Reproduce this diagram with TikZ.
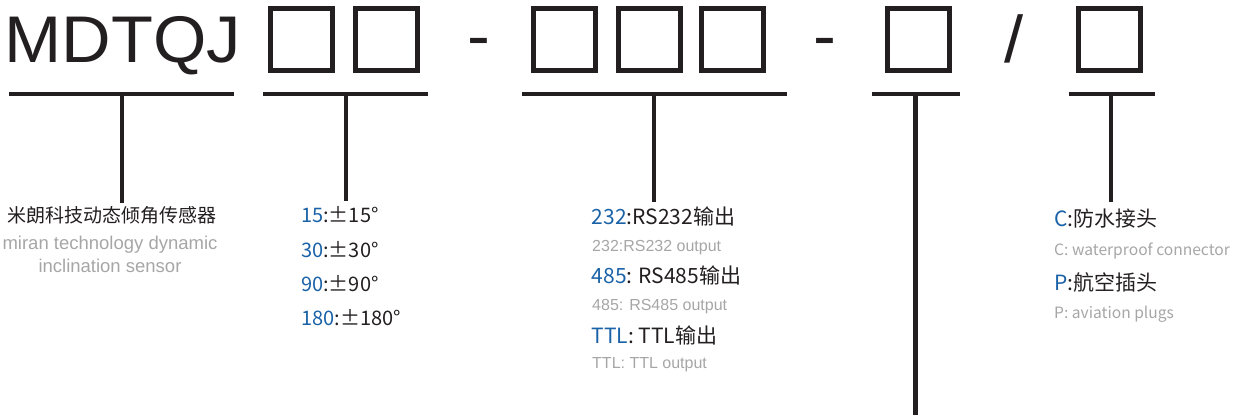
\documentclass[tikz,border=0pt]{standalone}
\usepackage{fontspec}
\newfontfamily\cjk{Noto Sans CJK SC}
\newfontfamily\arial{Liberation Sans}
\definecolor{ink}{HTML}{231F20}
\definecolor{codeblue}{HTML}{1A62A8}
\definecolor{notegrey}{HTML}{A6A6A6}
\newcommand{\key}[1]{\textcolor{codeblue}{#1}}
\tikzset{
  code/.style={font=\arial\fontsize{66}{66}\selectfont, text=ink, inner sep=0, anchor=base, xscale=1.04},
  slot/.style={draw=ink, line width=5pt},
  rule/.style={draw=ink, line width=3.8pt},
  stem/.style={draw=ink, line width=4.3pt},
  item/.style={font=\cjk\fontsize{20}{20}\selectfont, text=ink, inner sep=0, anchor=base west},
  bigitem/.style={item, font=\cjk\fontsize{21}{21}\selectfont},
  note/.style={font=\arial\fontsize{16}{16}\selectfont, text=notegrey, inner sep=0, anchor=base west},
  softnote/.style={note, font=\cjk\fontsize{15.6}{15.6}\selectfont},
}

\begin{document}
\begin{tikzpicture}[x=1pt, y=-1pt]
    \useasboundingbox (0,0) rectangle (1238,415);

    % model code
    \node[code, anchor=base west] (model) at (4.5,62) {MDTQJ};
    \foreach \x in {270.8,355.2,533.5,618.5,701.3,887.4,1078.9}
	\draw[slot] (\x,8.5) rectangle ++(62,62.3);
    \node[code] (dash1) at (479,58.6) {-};
    \node[code] (dash2) at (825,58.6) {-};
    \node[code] (slash) at (1014,62) {/};

    % underlines
    \draw[rule] (8.7,94) -- (234,94);
    \draw[rule] (263.3,94) -- (428.3,94);
    \draw[rule] (522.3,94) -- (787,94);
    \draw[rule] (872,94) -- (960,94);
    \draw[rule] (1068.6,94) -- (1155.3,94);
    \coordinate (u1) at (122,94);
    \coordinate (u2) at (346,94);
    \coordinate (u3) at (654,94);
    \coordinate (u4) at (915.6,94);
    \coordinate (u5) at (1111,94);
    \coordinate (b4) at (915.6,415);

    % name
    \node[item, anchor=base, font=\cjk\fontsize{19}{19}\selectfont, text height=19.5pt] (name) at (111.5,222.4) {米朗科技动态倾角传感器};
    \node[note, anchor=base, font=\arial\fontsize{18.5}{18.5}\selectfont] (name en) at (110,249.5) {miran technology dynamic};
    \node[note, anchor=base, font=\arial\fontsize{18.5}{18.5}\selectfont] (name en2) at (110,272) {inclination sensor};

    % range
    \node[item, text height=21.5pt] (r15) at (301,222.5) {\key{15}:±15°};
    \node[item] (r30) at (301,257.5) {\key{30}:±30°};
    \node[item] (r90) at (301,291.7) {\key{90}:±90°};
    \node[item] (r180) at (301,325.7) {\key{180}:±180°};

    % output
    \node[bigitem, text height=22pt] (o232) at (591.5,224.5) {\key{232}:RS232输出};
    \node[note] (o232 en) at (592,251.5) {232:RS232 output};
    \node[bigitem] (o485) at (591.5,283.5) {\key{485}: RS485输出};
    \node[note] (o485 en) at (592,310) {485: RS485 output};
    \node[bigitem] (ottl) at (591.5,343) {\key{TTL}: TTL输出};
    \node[note] (ottl en) at (592,368) {TTL: TTL output};

    % connector
    \node[bigitem, text height=24pt] (cw) at (1054,226) {\key{C}:防水接头};
    \node[softnote] (cw en) at (1054,255) {C: waterproof connector};
    \node[bigitem] (cp) at (1054,290) {\key{P}:航空插头};
    \node[softnote] (cp en) at (1054,318) {P: aviation plugs};

    % stems
    \draw[stem] (u1) -- (u1 |- name.north);
    \draw[stem] (u2) -- (u2 |- r15.north);
    \draw[stem] (u3) -- (u3 |- o232.north);
    \draw[stem] (u4) -- (b4);
    \draw[stem] (u5) -- (u5 |- cw.north);
\end{tikzpicture}
\end{document}
